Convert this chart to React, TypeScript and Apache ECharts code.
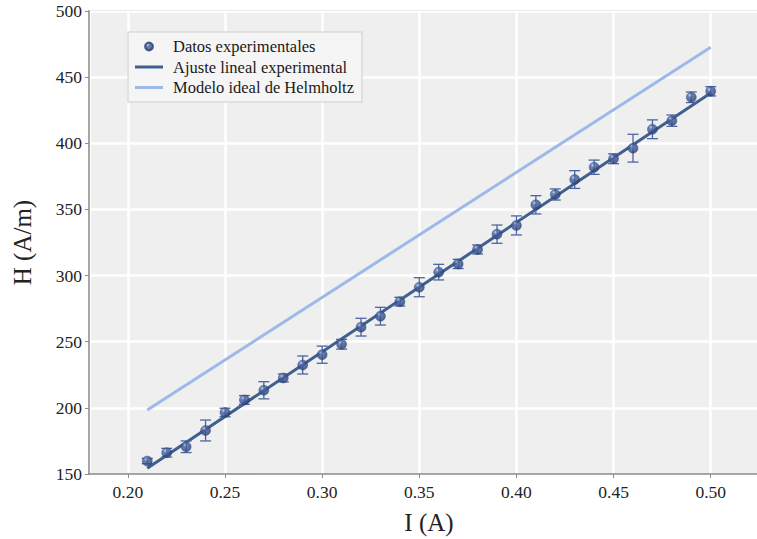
import React, { useEffect, useRef } from "react";
import * as echarts from "echarts";

const currentA = [0.21, 0.22, 0.23, 0.24, 0.25, 0.26, 0.27, 0.28, 0.29, 0.30, 0.31, 0.32, 0.33, 0.34, 0.35, 0.36, 0.37, 0.38, 0.39, 0.40, 0.41, 0.42, 0.43, 0.44, 0.45, 0.46, 0.47, 0.48, 0.49, 0.50];
const fieldH = [159.8, 166.1, 170.6, 182.9, 196.5, 206.0, 213.3, 222.6, 232.4, 240.2, 248.1, 261.0, 269.3, 280.3, 291.2, 302.6, 308.8, 319.7, 331.3, 337.9, 353.5, 361.3, 372.6, 381.9, 388.3, 396.3, 410.6, 417.1, 434.8, 439.3];
const errH = [2.0, 3.3, 4.4, 7.9, 3.2, 3.3, 6.5, 3.0, 6.8, 6.5, 3.7, 6.7, 6.7, 3.3, 7.2, 5.9, 3.5, 3.4, 6.9, 7.2, 6.9, 4.2, 6.7, 5.4, 3.7, 10.5, 7.1, 4.3, 4.0, 3.5];
const fitI = [0.21, 0.50];
const fitH = [154.3, 438.0];
const idealI = [0.21, 0.50];
const idealH = [198.4, 472.6];
const seriesNames = ["Datos experimentales", "Ajuste lineal experimental", "Modelo ideal de Helmholtz"];

const FONT = "'Liberation Serif', 'Times New Roman', serif";
const LINE_ICON = "path://M0,0h28v3h-28z";

export default function App() {
  const ref = useRef<HTMLDivElement>(null);
  useEffect(() => {
    if (!ref.current) return;
    const chart = echarts.init(ref.current, undefined, { renderer: "svg" });
    const dotFill = new echarts.graphic.RadialGradient(0.35, 0.3, 0.7, [
      { offset: 0, color: "#b9c6e8" },
      { offset: 0.28, color: "#4a66a6" },
      { offset: 1, color: "#2a3f72" },
    ]);
    const errColor = "#4a66a3";
    const fitColor = "#3f5f8c";
    const idealColor = "#9db9e8";
    chart.setOption({
      animation: false,
      backgroundColor: "#ffffff",
      textStyle: { fontFamily: FONT },
      grid: {
        left: 89,
        top: 11,
        right: 0,
        bottom: 65,
        outerBoundsMode: "none",
        show: true,
        backgroundColor: "#efefef",
        borderColor: "#8c8c8c",
        borderWidth: 1.5,
      },
      legend: {
        orient: "vertical",
        left: 128,
        top: 32,
        align: "left",
        padding: [6, 8, 6, 7],
        itemWidth: 28,
        itemHeight: 8,
        itemGap: 3.5,
        backgroundColor: "#f5f5f5",
        borderColor: "#dadada",
        borderWidth: 1.5,
        textStyle: { fontFamily: FONT, fontSize: 16.5, color: "#1a1a1a", padding: [0, 0, 0, 5] },
        data: [
          { name: seriesNames[0], icon: "circle" },
          { name: seriesNames[1], icon: LINE_ICON },
          { name: seriesNames[2], icon: LINE_ICON },
        ],
      },
      xAxis: {
        type: "value",
        min: 0.18,
        max: 0.53,
        splitNumber: 7,
        name: "I (A)",
        nameLocation: "middle",
        nameGap: 36,
        nameTextStyle: { fontFamily: FONT, fontSize: 25, color: "#222" },
        axisLine: { show: true, lineStyle: { color: "#8c8c8c", width: 1.5 } },
        axisTick: { show: true, length: 4, lineStyle: { color: "#8c8c8c" } },
        axisLabel: {
          showMinLabel: false,
          showMaxLabel: false,
          margin: 9,
          fontFamily: FONT,
          fontSize: 17.5,
          color: "#222",
          formatter: (v: number) => v.toFixed(2),
        },
        splitLine: { show: true, lineStyle: { color: "#ffffff", width: 2.5 } },
      },
      yAxis: {
        type: "value",
        min: 150,
        max: 500,
        interval: 50,
        name: "H (A/m)",
        nameLocation: "middle",
        nameGap: 54,
        nameTextStyle: { fontFamily: FONT, fontSize: 25, color: "#222" },
        axisLine: { show: true, lineStyle: { color: "#8c8c8c", width: 1.5 } },
        axisTick: { show: true, length: 4, lineStyle: { color: "#8c8c8c" } },
        axisLabel: { margin: 7, fontFamily: FONT, fontSize: 17.5, color: "#222" },
        splitLine: { show: true, lineStyle: { color: "#ffffff", width: 2.5 } },
      },
      series: [
        {
          name: seriesNames[2],
          type: "line",
          data: idealI.map((x, i) => [x, idealH[i]]),
          showSymbol: false,
          symbol: "none",
          lineStyle: { color: idealColor, width: 3 },
          itemStyle: { color: idealColor },
          z: 2,
        },
        {
          name: seriesNames[1],
          type: "line",
          data: fitI.map((x, i) => [x, fitH[i]]),
          showSymbol: false,
          symbol: "none",
          lineStyle: { color: fitColor, width: 3 },
          itemStyle: { color: fitColor },
          z: 3,
        },
        {
          name: "err",
          type: "custom",
          data: currentA.map((x, i) => [x, fieldH[i] - errH[i], fieldH[i] + errH[i]]),
          encode: { x: 0, y: [1, 2] },
          z: 4,
          renderItem: (params: any, api: any) => {
            const x = api.value(0);
            const lo = api.coord([x, api.value(1)]);
            const hi = api.coord([x, api.value(2)]);
            const w = 5.5;
            const style = { stroke: errColor, lineWidth: 1.3 };
            return {
              type: "group",
              children: [
                { type: "line", shape: { x1: lo[0], y1: lo[1], x2: hi[0], y2: hi[1] }, style },
                { type: "line", shape: { x1: lo[0] - w, y1: lo[1], x2: lo[0] + w, y2: lo[1] }, style },
                { type: "line", shape: { x1: hi[0] - w, y1: hi[1], x2: hi[0] + w, y2: hi[1] }, style },
              ],
            };
          },
        },
        {
          name: seriesNames[0],
          type: "scatter",
          data: currentA.map((x, i) => [x, fieldH[i]]),
          symbol: "circle",
          symbolSize: 10,
          itemStyle: { color: dotFill, borderColor: "#2b4275", borderWidth: 0.5 },
          z: 5,
        },
      ],
    });
    return () => chart.dispose();
  }, []);
  return (
    <div
      ref={ref}
      style={{ position: "fixed", left: 0, top: 0, width: 769, height: 539, overflow: "hidden" }}
    />
  );
}
